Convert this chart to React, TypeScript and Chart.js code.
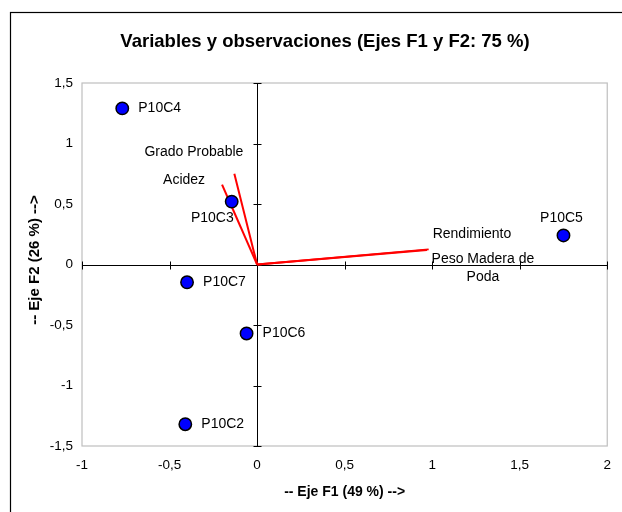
import React, { useEffect, useRef } from "react";
import { Chart, registerables } from "chart.js";

Chart.register(...registerables);

// Observations (F1, F2 coordinates)
const obsNames = ["P10C2", "P10C3", "P10C4", "P10C5", "P10C6", "P10C7"];
const obsF1 = [-0.41, -0.145, -0.77, 1.75, -0.06, -0.4];
const obsF2 = [-1.32, 0.52, 1.29, 0.24, -0.57, -0.147];

// Variables (vector end points)
const varNames = ["Rendimiento", "Peso Madera de Poda", "Grado Probable", "Acidez"];
const varF1 = [0.98, 0.97, -0.13, -0.2];
const varF2 = [0.125, 0.12, 0.75, 0.66];

const xTicks = [-1, -0.5, 0, 0.5, 1, 1.5, 2];
const yTicks = [-1.5, -1, -0.5, 0, 0.5, 1, 1.5];

const titleText = "Variables y observaciones (Ejes F1 y F2: 75 %)";
const xTitle = "-- Eje F1 (49 %) -->";
const yTitle = "-- Eje F2 (26 %) -->";

// label placement styles
const obsLabelPlace = ["right", "belowLeft", "right", "above", "right", "right"];
const varLabelLines = [["Rendimiento"], ["Peso Madera de", "Poda"], ["Grado Probable"], ["Acidez"]];
const varLabelStyle = [
  { align: "left", dx: 4, dy: -15 },
  { align: "center", dx: 56, dy: 9 },
  { align: "right", dx: 9, dy: -22 },
  { align: "right", dx: -17, dy: -4 },
];

const FONT = "'Liberation Sans', Arial, Helvetica, sans-serif";
const fmt = (v: number) => String(v).replace(".", ",");

export default function App() {
  const ref = useRef<HTMLCanvasElement | null>(null);

  useEffect(() => {
    if (!ref.current) return;

    const decor = {
      id: "decor",
      beforeDraw(chart: any) {
        const ctx = chart.ctx;
        ctx.save();
        ctx.fillStyle = "#ffffff";
        ctx.fillRect(0, 0, chart.width, chart.height);
        ctx.strokeStyle = "#000000";
        ctx.lineWidth = 1.2;
        ctx.strokeRect(10.5, 12.5, chart.width + 20, chart.height + 20);
        ctx.restore();
      },
      beforeDatasetsDraw(chart: any) {
        const ctx = chart.ctx;
        const a = chart.chartArea;
        const xs = chart.scales.x;
        const ys = chart.scales.y;
        ctx.save();
        ctx.strokeStyle = "#bfbfbf";
        ctx.lineWidth = 1.2;
        ctx.strokeRect(a.left, a.top, a.right - a.left, a.bottom - a.top);
        const x0 = Math.round(xs.getPixelForValue(0)) + 0.5;
        const y0 = Math.round(ys.getPixelForValue(0)) + 0.5;
        ctx.strokeStyle = "#000000";
        ctx.lineWidth = 1;
        ctx.beginPath();
        ctx.moveTo(x0, a.top);
        ctx.lineTo(x0, a.bottom);
        ctx.moveTo(a.left, y0);
        ctx.lineTo(a.right, y0);
        xTicks.forEach((t) => {
          const px = Math.round(xs.getPixelForValue(t)) + 0.5;
          ctx.moveTo(px, y0 - 4);
          ctx.lineTo(px, y0 + 4);
        });
        yTicks.forEach((t) => {
          const py = Math.round(ys.getPixelForValue(t)) + 0.5;
          ctx.moveTo(x0 - 4, py);
          ctx.lineTo(x0 + 4, py);
        });
        ctx.stroke();
        ctx.restore();
      },
      afterDatasetsDraw(chart: any) {
        const ctx = chart.ctx;
        const a = chart.chartArea;
        const xs = chart.scales.x;
        const ys = chart.scales.y;
        ctx.save();
        ctx.fillStyle = "#000000";
        ctx.textBaseline = "middle";
        ctx.font = `14px ${FONT}`;
        obsNames.forEach((n, i) => {
          const px = xs.getPixelForValue(obsF1[i]);
          const py = ys.getPixelForValue(obsF2[i]);
          const p = obsLabelPlace[i];
          if (p === "right") {
            ctx.textAlign = "left";
            ctx.fillText(n, px + 16, py);
          } else if (p === "belowLeft") {
            ctx.textAlign = "right";
            ctx.fillText(n, px + 2, py + 17);
          } else {
            ctx.textAlign = "center";
            ctx.fillText(n, px - 2, py - 17);
          }
        });
        varNames.forEach((_, i) => {
          const px = xs.getPixelForValue(varF1[i]);
          const py = ys.getPixelForValue(varF2[i]);
          const s = varLabelStyle[i];
          ctx.textAlign = s.align;
          varLabelLines[i].forEach((line, k) => {
            ctx.fillText(line, px + s.dx, py + s.dy + k * 18);
          });
        });
        // titles
        ctx.textAlign = "center";
        ctx.font = `bold 18.5px ${FONT}`;
        ctx.fillText(titleText, 325, 42);
        ctx.font = `bold 14px ${FONT}`;
        ctx.fillText(xTitle, (a.left + a.right) / 2, 492);
        ctx.translate(35, 260);
        ctx.rotate(-Math.PI / 2);
        ctx.font = `bold 15px ${FONT}`;
        ctx.fillText(yTitle, 0, 0);
        ctx.restore();
      },
    };

    const chart = new Chart(ref.current, {
      type: "scatter",
      data: {
        datasets: [
          {
            label: "Observaciones",
            data: obsNames.map((_, i) => ({ x: obsF1[i], y: obsF2[i] })),
            backgroundColor: "#0000ff",
            borderColor: "#000000",
            borderWidth: 1.5,
            pointRadius: 6.2,
            order: 0,
          },
          ...varNames.map((n, i) => ({
            label: n,
            type: "line" as const,
            data: [
              { x: 0, y: 0 },
              { x: varF1[i], y: varF2[i] },
            ],
            borderColor: "#ff0000",
            borderWidth: 2,
            pointRadius: 0,
            showLine: true,
            fill: false,
            order: 1,
          })),
        ],
      },
      options: {
        responsive: false,
        animation: false,
        devicePixelRatio: 1,
        layout: { padding: { left: 0, top: 83, right: 13.5, bottom: 0 } },
        plugins: {
          legend: { display: false },
          title: { display: false },
          tooltip: { enabled: false },
        },
        scales: {
          x: {
            type: "linear",
            min: -1,
            max: 2,
            afterBuildTicks: (s: any) => {
              s.ticks = xTicks.map((v) => ({ value: v }));
            },
            afterFit: (s: any) => {
              s.height = 66;
            },
            grid: { display: false, drawTicks: false },
            border: { display: false },
            ticks: {
              padding: 11,
              color: "#000000",
              font: { family: FONT, size: 13.5 },
              maxRotation: 0,
              callback: (v: any) => fmt(Number(v)),
            },
          },
          y: {
            type: "linear",
            min: -1.5,
            max: 1.5,
            afterBuildTicks: (s: any) => {
              s.ticks = yTicks.map((v) => ({ value: v }));
            },
            afterFit: (s: any) => {
              s.width = 82;
            },
            grid: { display: false, drawTicks: false },
            border: { display: false },
            ticks: {
              padding: 9,
              color: "#000000",
              font: { family: FONT, size: 13.5 },
              callback: (v: any) => fmt(Number(v)),
            },
          },
        },
      },
      plugins: [decor],
    } as any);

    return () => chart.destroy();
  }, []);

  return (
    <div style={{ position: "fixed", left: 0, top: 0, width: 622, height: 512, background: "#fff" }}>
      <canvas ref={ref} width={622} height={512} style={{ display: "block" }} />
    </div>
  );
}
